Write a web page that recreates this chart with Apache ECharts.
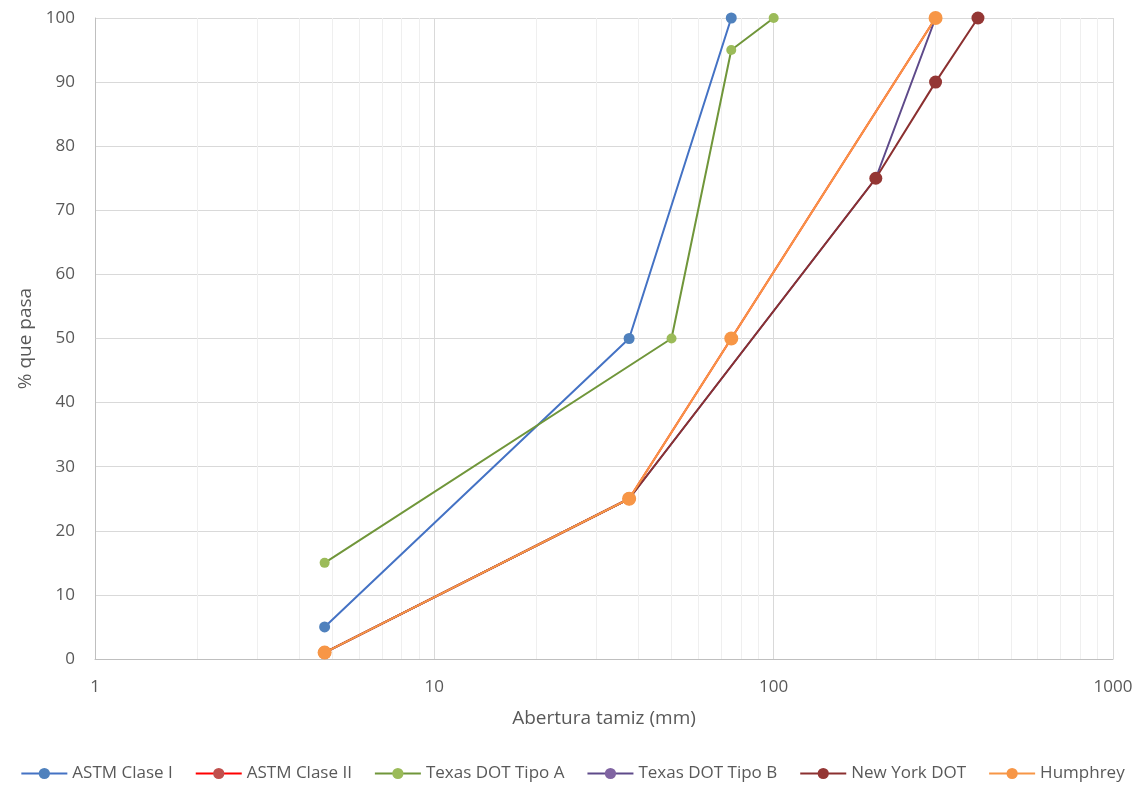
<!DOCTYPE html>
<html><head><meta charset="utf-8">
<script src="https://cdn.jsdelivr.net/npm/echarts@6/dist/echarts.min.js"></script>
<style>html,body{margin:0;padding:0;background:#fff}#c{width:1145px;height:790px}</style>
</head><body><div id="c"></div>
<script>
const seriesNames = ['ASTM Clase I','ASTM Clase II','Texas DOT Tipo A','Texas DOT Tipo B','New York DOT','Humphrey'];
const astm1 = [[4.75,5],[37.5,50],[75,100]];
const astm2 = [[4.75,1],[37.5,25],[75,50],[300,100]];
const texasA = [[4.75,15],[50,50],[75,95],[100,100]];
const texasB = [[4.75,1],[37.5,25],[200,75],[300,100]];
const newYork = [[4.75,1],[37.5,25],[200,75],[300,90],[400,100]];
const humphrey = [[4.75,1],[37.5,25],[75,50],[300,100]];
const minorGrid = [2,3,4,5,6,7,8,9,20,30,40,50,60,70,80,90,200,300,400,500,600,700,800,900];

const lineColors = ['#4472C4','#FF0000','#70963A','#5E4A8A','#8B3030','#F79646'];
const markColors = ['#4F81BD','#C0504D','#9BBB59','#8064A2','#943634','#F79646'];
const sizes = [11,11,10,11,13,14];
const datas = [astm1, astm2, texasA, texasB, newYork, humphrey];

const series = datas.map((d,i)=>({
  name: seriesNames[i], type:'line', data:d, symbol:'circle', symbolSize:sizes[i],
  lineStyle:{color:lineColors[i], width:2}, itemStyle:{color:markColors[i]}, z: 10+i,
  emphasis:{disabled:true}
}));
series.unshift({
  type:'line', data:[], silent:true, z:1,
  markLine:{silent:true, z:1, symbol:'none', label:{show:false},
    lineStyle:{color:'#efefef', type:'solid', width:1},
    emphasis:{disabled:true},
    data: minorGrid.map(v=>({xAxis:v}))}
});

const chart = echarts.init(document.getElementById('c'));
chart.setOption({
  animation:false,
  textStyle:{fontFamily:'"Open Sans", sans-serif'},
  grid:{left:95, right:32, top:18, bottom:131},
  legend:{bottom:8, left:'center', padding:0, itemGap:22, itemWidth:46, itemHeight:14,
    textStyle:{color:'#595959', fontSize:17, fontFamily:'"Open Sans", sans-serif'},
    data: seriesNames},
  xAxis:{type:'log', logBase:10, min:1, max:1000,
    name:'Abertura tamiz (mm)', nameLocation:'middle', nameGap:50,
    nameTextStyle:{color:'#595959', fontSize:19},
    axisLine:{show:true, lineStyle:{color:'#bfbfbf'}}, axisTick:{show:false},
    axisLabel:{color:'#595959', fontSize:17, margin:20, formatter:v=>String(Math.round(v))},
    splitLine:{show:true, lineStyle:{color:'#d9d9d9'}}},
  yAxis:{type:'value', min:0, max:100, interval:10,
    name:'% que pasa', nameLocation:'middle', nameGap:58,
    nameTextStyle:{color:'#595959', fontSize:19},
    axisLine:{show:true, lineStyle:{color:'#bfbfbf'}}, axisTick:{show:false},
    axisLabel:{color:'#595959', fontSize:17, margin:20},
    splitLine:{show:true, lineStyle:{color:'#d9d9d9'}}},
  series: series
});
</script></body></html>
